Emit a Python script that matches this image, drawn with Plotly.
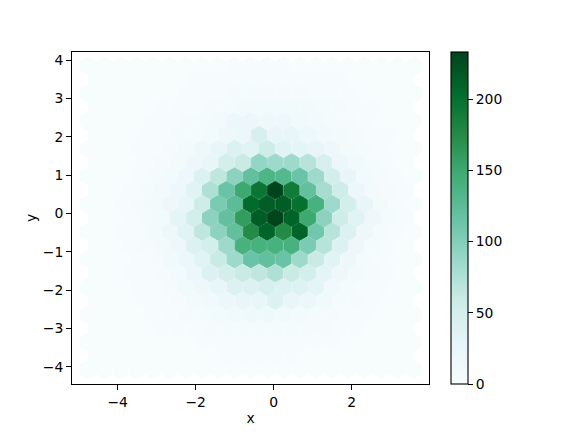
import plotly.graph_objects as go

# hexbin grid (gridsize=20): lattice of even rows (21 hexes) and odd rows (20 hexes)
x_min = -4.76
x_step = 0.4175
y_min = -4.073
y_step = 0.72

# counts for even rows (y = y_min + j*y_step), 21 hexes each
counts_even = [
    [0, 0, 0, 0, 0, 0, 0, 0, 0, 0, 0, 0, 0, 0, 0, 0, 0, 0, 0, 0, 0],
    [0, 0, 0, 0, 0, 0, 0, 1, 1, 2, 2, 2, 2, 1, 1, 1, 0, 0, 0, 0, 0],
    [0, 0, 0, 0, 1, 2, 3, 6, 10, 12, 14, 14, 12, 10, 6, 4, 2, 1, 0, 0, 0],
    [0, 0, 0, 1, 2, 4, 12, 15, 25, 40, 40, 45, 40, 38, 30, 12, 6, 2, 1, 0, 0],
    [0, 0, 0, 1, 3, 12, 20, 35, 60, 85, 115, 120, 115, 85, 60, 35, 15, 5, 2, 0, 0],
    [0, 0, 1, 2, 8, 15, 35, 65, 95, 120, 175, 210, 175, 210, 110, 70, 40, 15, 5, 1, 0],
    [0, 0, 1, 3, 8, 15, 25, 55, 105, 125, 205, 215, 215, 200, 140, 85, 50, 25, 8, 2, 0],
    [0, 0, 0, 2, 5, 10, 18, 40, 65, 95, 120, 135, 130, 115, 85, 50, 25, 10, 4, 1, 0],
    [0, 0, 0, 1, 2, 4, 8, 15, 25, 40, 35, 55, 35, 30, 25, 15, 8, 3, 1, 0, 0],
    [0, 0, 0, 0, 1, 2, 4, 6, 10, 20, 20, 15, 18, 12, 10, 6, 3, 1, 0, 0, 0],
    [0, 0, 0, 0, 0, 0, 1, 1, 2, 4, 5, 4, 4, 3, 2, 1, 1, 0, 0, 0, 0],
    [0, 0, 0, 0, 0, 0, 0, 0, 0, 1, 1, 1, 1, 0, 0, 0, 0, 0, 0, 0, 0],
]

# counts for odd rows (y = y_min + (k+0.5)*y_step), 20 hexes each
counts_odd = [
    [0, 0, 0, 0, 0, 0, 0, 0, 1, 1, 1, 1, 1, 0, 0, 0, 0, 0, 0, 0],
    [0, 0, 0, 0, 1, 1, 2, 3, 4, 5, 6, 6, 5, 4, 3, 2, 1, 0, 0, 0],
    [0, 0, 0, 1, 2, 4, 8, 12, 20, 25, 25, 40, 25, 20, 12, 6, 3, 1, 0, 0],
    [0, 0, 1, 2, 4, 10, 20, 40, 50, 60, 65, 75, 60, 50, 30, 15, 8, 3, 1, 0],
    [0, 0, 1, 3, 8, 15, 40, 50, 85, 140, 140, 140, 140, 105, 70, 40, 15, 6, 2, 0],
    [0, 0, 2, 5, 10, 30, 50, 95, 120, 160, 215, 233, 210, 150, 95, 55, 35, 15, 5, 1],
    [0, 0, 1, 3, 8, 18, 35, 75, 115, 150, 195, 233, 190, 120, 80, 55, 20, 8, 3, 1],
    [0, 0, 0, 2, 4, 8, 15, 25, 50, 60, 90, 85, 85, 70, 45, 20, 12, 5, 2, 0],
    [0, 0, 0, 1, 2, 3, 5, 10, 15, 20, 45, 25, 25, 18, 12, 8, 4, 2, 1, 0],
    [0, 0, 0, 0, 1, 1, 2, 4, 6, 8, 10, 10, 9, 7, 5, 3, 2, 1, 0, 0],
    [0, 0, 0, 0, 0, 0, 1, 1, 1, 2, 2, 2, 2, 1, 1, 1, 0, 0, 0, 0],
]

xs, ys, cs = [], [], []
for j, row in enumerate(counts_even):
    for i, c in enumerate(row):
        xs.append(x_min + i * x_step)
        ys.append(y_min + j * y_step)
        cs.append(c)
for k, row in enumerate(counts_odd):
    for i, c in enumerate(row):
        xs.append(x_min + (i + 0.5) * x_step)
        ys.append(y_min + (k + 0.5) * y_step)
        cs.append(c)

font = dict(family="DejaVu Sans", size=13.9, color="black")
cmax = max(cs)

fig = go.Figure()
fig.add_trace(go.Scatter(
    x=xs, y=ys, mode="markers", cliponaxis=True, showlegend=False,
    marker=dict(
        symbol="hexagon", size=17.6, color=cs, colorscale="BuGn",
        cmin=0, cmax=cmax,
        line=dict(width=1, color=cs, colorscale="BuGn", cmin=0, cmax=cmax),
        colorbar=dict(
            thickness=16.6, thicknessmode="pixels", len=1, lenmode="fraction",
            x=1.0624, xanchor="left", xpad=0, y=0.5, yanchor="middle", ypad=0,
            outlinewidth=1.1, outlinecolor="black",
            ticks="outside", ticklen=4.9, tickwidth=1.1, tickcolor="black",
            tick0=0, dtick=50, tickfont=font,
        ),
    ),
))

axis_style = dict(
    showgrid=False, zeroline=False, showline=True, mirror=True,
    linecolor="black", linewidth=1.1, ticks="outside", ticklen=4.9,
    tickwidth=1.1, tickcolor="black", tickfont=font, automargin=False,
)
fig.update_xaxes(range=[-5.172, 3.984], tickvals=[-4, -2, 0, 2],
                 title=dict(text="x", font=font, standoff=4), **axis_style)
fig.update_yaxes(range=[-4.448, 4.213], tickvals=[-4, -3, -2, -1, 0, 1, 2, 3, 4],
                 title=dict(text="y", font=font, standoff=2), **axis_style)
# the page puts the figure 8 px in from the corner, so the figure is 8 px smaller
fig.update_layout(
    width=568, height=424,
    margin=dict(l=64, r=146.9, t=43.8, b=47.5, autoexpand=False),
    paper_bgcolor="white", plot_bgcolor="white", font=font,
)
fig.write_html("out.html")
